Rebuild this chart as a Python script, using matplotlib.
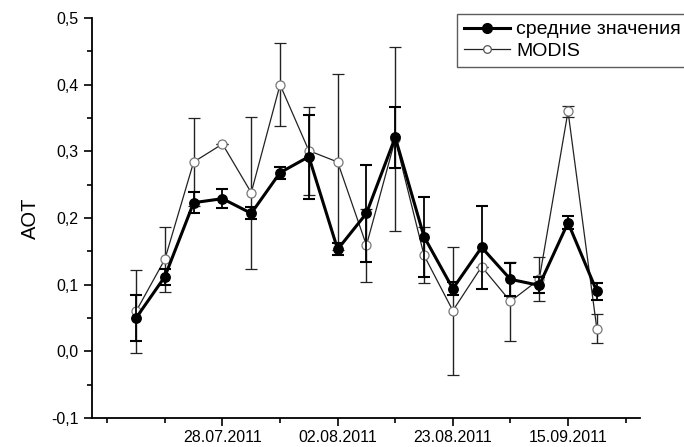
import numpy as np
import matplotlib
matplotlib.use('Agg')
import matplotlib.pyplot as plt
from matplotlib.lines import Line2D
from matplotlib.ticker import MultipleLocator, FuncFormatter

plt.rcParams['font.family'] = ['Liberation Sans', 'DejaVu Sans']

mean_aot = [0.050, 0.112, 0.223, 0.229, 0.207, 0.268, 0.292, 0.153, 0.207,
            0.321, 0.172, 0.094, 0.156, 0.108, 0.099, 0.193, 0.090]
mean_err = [0.034, 0.012, 0.016, 0.014, 0.009, 0.009, 0.063, 0.009, 0.073,
            0.046, 0.060, 0.010, 0.062, 0.025, 0.012, 0.010, 0.013]
modis_aot = [0.060, 0.138, 0.284, 0.311, 0.238, 0.400, 0.301, 0.284, 0.159,
             0.318, 0.144, 0.061, 0.127, 0.075, 0.108, 0.360, 0.034]
modis_err = [0.062, 0.049, 0.066, 0.000, 0.114, 0.062, 0.066, 0.132, 0.055,
             0.138, 0.042, 0.096, 0.000, 0.059, 0.033, 0.008, 0.022]
label_pos = [3, 7, 11, 15]
date_labels = ['28.07.2011', '02.08.2011', '23.08.2011', '15.09.2011']
minor_pos = [-1, 1, 5, 9, 13, 17]

x = np.arange(len(mean_aot))

fig = plt.figure(figsize=(6.84, 4.47), dpi=100)
ax = fig.add_axes([0.1345, 0.0649, 0.8012, 0.8948])

ax.errorbar(x, modis_aot, yerr=modis_err, fmt='-o', color='#222222', lw=0.9,
            ms=6.5, mfc='white', mec='#777777', mew=0.9, ecolor='#222222',
            elinewidth=1.0, capsize=4.2, capthick=1.0, zorder=2)
ax.errorbar(x, mean_aot, yerr=mean_err, fmt='-o', color='black', lw=2.2,
            ms=6.8, mfc='black', mec='black', ecolor='black',
            elinewidth=1.3, capsize=4.2, capthick=1.5, zorder=3)

ax.set_xlim(-1.53, 17.5)
ax.set_ylim(-0.1, 0.5)
ax.set_xticks(label_pos)
ax.set_xticklabels(date_labels)
ax.set_xticks(minor_pos, minor=True)
ax.yaxis.set_major_locator(MultipleLocator(0.1))
ax.yaxis.set_minor_locator(MultipleLocator(0.05))
ax.yaxis.set_major_formatter(FuncFormatter(lambda v, p: ('%.1f' % v).replace('.', ',')))
ax.tick_params(axis='both', which='major', direction='out', length=6, width=1.2,
               labelsize=11.5)
ax.tick_params(axis='both', which='minor', direction='out', length=3.5, width=1.2)
ax.tick_params(axis='x', pad=3)
for s in ['top', 'right']:
    ax.spines[s].set_visible(False)
for s in ['left', 'bottom']:
    ax.spines[s].set_linewidth(1.3)

ax.set_ylabel('AOT', fontsize=14.5, labelpad=8)

handles = [Line2D([], [], color='black', lw=2.2, marker='o', ms=7, mfc='black'),
           Line2D([], [], color='#222222', lw=0.9, marker='o', ms=5.5, mfc='white',
                  mec='#555555', mew=0.9)]
leg = ax.legend(handles, ['средние значения', 'MODIS'], loc='upper left',
                bbox_to_anchor=(457 / 684, 1 - 14 / 447),
                bbox_transform=fig.transFigure, fontsize=14, frameon=True, fancybox=False,
                edgecolor='#333333', handlelength=2.4, handletextpad=0.3,
                borderpad=0.35, labelspacing=0.2, borderaxespad=0)
leg.get_frame().set_linewidth(1.0)

plt.savefig('out.png', dpi=100)
